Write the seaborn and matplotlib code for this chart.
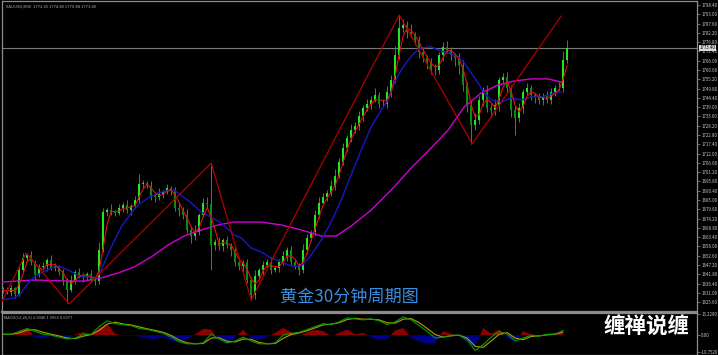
import numpy as np
import pandas as pd
import matplotlib
matplotlib.use('Agg')
import matplotlib.pyplot as plt
import matplotlib.transforms as mtransforms
import seaborn as sns

# XAUUSD M30 closes, one per bar
close = [
    1632.7, 1631.5, 1633.9, 1630.4, 1644.3, 1651.3, 1653.0, 1649.0, 1641.4, 1646.1,
    1646.6, 1650.1, 1645.5, 1646.6, 1643.2, 1638.5, 1632.7, 1638.5, 1643.2, 1640.8,
    1640.3, 1642.0, 1638.5, 1637.9, 1655.9, 1678.0, 1679.2, 1678.0, 1677.5, 1680.4,
    1682.1, 1679.2, 1681.5, 1685.0, 1694.3, 1694.9, 1693.2, 1687.3, 1686.8, 1688.5,
    1689.7, 1692.0, 1690.8, 1680.4, 1679.2, 1676.3, 1667.6, 1664.1, 1666.4, 1676.3,
    1683.3, 1682.7, 1658.9, 1660.6, 1658.3, 1661.8, 1658.9, 1655.9, 1649.0, 1646.6,
    1649.0, 1638.5, 1629.8, 1640.8, 1644.3, 1647.2, 1649.0, 1644.3, 1645.5, 1649.0,
    1652.5, 1655.9, 1649.0, 1646.6, 1644.3, 1655.9, 1662.9, 1666.4, 1676.3, 1683.3,
    1686.8, 1689.1, 1693.2, 1699.0, 1707.1, 1715.3, 1721.1, 1725.7, 1728.0, 1733.9,
    1738.5, 1740.8, 1743.2, 1746.0, 1740.8, 1740.8, 1747.8, 1754.8, 1769.3, 1785.0,
    1786.8, 1782.7, 1781.0, 1778.0, 1771.1, 1767.6, 1765.3, 1760.6, 1760.6, 1769.3,
    1774.0, 1772.2, 1769.3, 1767.6, 1763.5, 1751.9, 1740.3, 1728.6, 1731.5, 1743.2,
    1749.0, 1738.5, 1737.3, 1740.3, 1754.8, 1756.5, 1750.1, 1737.3, 1732.7, 1738.5,
    1747.8, 1750.1, 1746.1, 1744.9, 1743.2, 1745.5, 1743.2, 1747.8, 1750.1, 1750.1,
    1766.4, 1773.4,
]
first_open = 1633.5

# wick lengths above / below the candle body
upper_wick = [
    1.2, 2.0, 1.5, 0.8, 2.6, 3.1, 1.4, 2.2, 0.9, 1.7,
    2.4, 1.1, 3.0, 1.6, 0.7, 1.9, 1.3, 2.8, 1.0, 2.1,
    1.5, 0.9, 2.3, 1.8, 4.5, 2.6, 1.2, 3.4, 1.0, 2.0,
    1.6, 2.9, 1.3, 2.2, 5.8, 2.0, 1.1, 2.7, 1.8, 3.3,
    1.4, 2.5, 1.0, 1.9, 2.8, 1.5, 3.6, 2.2, 4.0, 1.3,
    2.6, 3.2, 23.8, 1.8, 2.9, 1.4, 2.3, 1.0, 1.9, 2.6,
    1.2, 2.0, 1.6, 3.5, 1.1, 2.4, 1.8, 2.7, 1.3, 2.0,
    3.0, 1.5, 2.2, 0.9, 1.6, 3.4, 2.5, 1.2, 2.8, 3.6,
    2.1, 1.7, 3.2, 4.0, 2.4, 2.9, 1.8, 3.5, 2.2, 2.7,
    1.6, 3.1, 2.3, 4.2, 1.9, 2.8, 3.4, 2.6, 5.0, 7.6,
    3.3, 2.1, 4.4, 1.8, 2.6, 3.0, 1.5, 2.4, 3.7, 1.9,
    2.8, 3.5, 2.0, 1.4, 2.6, 3.1, 1.7, 2.2, 3.9, 2.5,
    1.8, 2.9, 2.2, 3.6, 1.5, 2.4, 3.0, 1.9, 2.3, 2.7,
    1.6, 3.2, 2.0, 1.4, 2.6, 1.8, 2.9, 2.2, 1.7, 3.4,
    5.5, 4.6,
]
lower_wick = [
    1.8, 1.0, 2.5, 2.4, 1.2, 0.9, 2.1, 1.6, 2.8, 1.3,
    1.9, 2.6, 1.1, 2.0, 1.5, 2.9, 7.6, 1.4, 2.2, 1.0,
    2.7, 1.6, 1.3, 2.4, 1.8, 1.1, 2.5, 1.7, 2.0, 1.4,
    2.2, 1.5, 2.8, 1.2, 1.9, 2.6, 1.4, 2.1, 3.0, 1.6,
    2.4, 1.3, 2.9, 1.8, 3.2, 2.5, 1.6, 3.8, 2.2, 1.9,
    1.4, 2.6, 14.6, 3.1, 2.2, 2.8, 1.7, 3.5, 2.4, 2.0,
    3.3, 1.8, 2.9, 2.3, 1.6, 2.7, 1.9, 2.5, 1.4, 2.2,
    1.7, 2.8, 2.0, 1.5, 2.9, 1.9, 2.4, 1.6, 2.1, 1.8,
    1.3, 2.3, 1.7, 2.6, 1.4, 2.0, 1.8, 2.5, 1.5, 2.2,
    2.7, 1.6, 2.9, 1.3, 2.4, 1.9, 2.2, 3.0, 1.7, 2.1,
    2.6, 3.4, 1.8, 2.9, 3.7, 2.3, 4.1, 2.6, 3.0, 2.4,
    3.2, 2.0, 2.7, 4.6, 5.2, 3.6, 4.4, 11.0, 3.1, 2.5,
    3.4, 2.2, 4.0, 2.8, 3.5, 2.1, 3.0, 4.2, 9.9, 2.6,
    3.1, 2.0, 2.7, 3.3, 2.4, 2.9, 1.8, 2.6, 2.2, 1.9,
    2.4, 2.0,
]

# medium moving average (blue)
blue_bar = [-0.5, 2.75, 4.5, 6.25, 7.75, 9.5, 12.75, 14.5, 16.25, 19.5, 22, 23.25, 24.5,
            27, 29.5, 32, 33.75, 36.25, 38.75, 41.5, 42.75, 45, 47, 49.5, 52, 54.5, 57.75,
            59.5, 62, 64.5, 67, 69.5, 72, 74.5, 77, 79.5, 82, 84.5, 87, 89.5, 92, 94.5,
            96.25, 97.75, 99.5, 101.25, 102.75, 104.5, 107, 108.75, 111.25, 113.75, 115.25,
            117, 118.75, 120.25, 122, 124.5, 127, 129.5, 132, 134.5, 136.25, 137.75, 139.5]
blue_val = [1626.9, 1628.0, 1630.9, 1636.8, 1640.3, 1642.6, 1646.1, 1646.1, 1644.3, 1640.3,
            1640.3, 1639.7, 1644.3, 1657.7, 1669.3, 1677.5, 1682.1, 1686.2, 1689.1, 1690.8,
            1690.8, 1686.8, 1683.3, 1678.0, 1675.1, 1671.6, 1664.7, 1662.9, 1657.1, 1654.8,
            1651.3, 1649.0, 1646.6, 1646.6, 1653.0, 1661.8, 1672.2, 1685.0, 1699.6, 1714.1,
            1727.5, 1737.3, 1743.2, 1753.0, 1760.6, 1766.4, 1770.5, 1773.4, 1774.0, 1772.2,
            1770.5, 1768.2, 1764.7, 1758.9, 1753.0, 1747.2, 1743.2, 1742.0, 1744.3, 1743.2,
            1744.9, 1744.9, 1746.1, 1747.2, 1747.8]

# slow moving average (magenta)
magenta_bar = [-0.5, 7.75, 16.25, 20.25, 24.5, 28.75, 32.75, 37, 41.25, 45.25, 49.5, 53.75,
               57.75, 59.5, 64.5, 69.5, 74.5, 79.5, 83.25, 87, 92, 97, 102, 107, 111.25,
               115.25, 119.5, 123.75, 127.75, 132, 136.25, 139.5]
magenta_val = [1637.3, 1638.5, 1637.9, 1637.9, 1639.7, 1642.6, 1646.1, 1651.9, 1658.9, 1664.1,
               1667.6, 1670.5, 1672.2, 1672.2, 1672.2, 1670.5, 1667.6, 1664.1, 1664.1, 1669.9,
               1679.2, 1690.8, 1703.6, 1715.3, 1725.7, 1739.1, 1747.2, 1751.9, 1754.2, 1755.4,
               1755.4, 1753.6]

# zigzag turning points
zigzag_bar = [-0.5, 5.75, 16.5, 52, 62, 99, 117.25, 139.5]
zigzag_val = [1625.1, 1654.2, 1624.6, 1706.5, 1626.9, 1792.6, 1717.6, 1792.0]

# MACD panel, one sample every second bar
macd_bar = list(range(0, 141, 2))
macd_main = [0.6, 0.6, 2.4, 4.2, 2.4, 0.6, 0.0, -1.2, -2.4, -1.8,
             0.6, 0.6, 5.4, 9.0, 7.2, 6.6, 6.0, 4.2, 3.6, 2.4,
             1.2, -1.2, -4.2, -5.4, -5.4, -4.8, 0.6, -2.4, -4.8, -3.6,
             -1.2, -3.6, -5.4, -5.4, -4.8, 0.0, 1.2, 1.8, 3.6, 5.4,
             7.2, 6.6, 8.4, 10.8, 10.2, 9.6, 10.2, 9.0, 6.6, 8.4,
             11.4, 9.6, 6.0, 2.4, -1.8, -1.2, 0.0, 0.0, -3.0, -9.6,
             -6.0, -1.2, 2.4, 0.6, -3.6, -1.8, 0.0, -0.6, 0.6, 0.6,
             3.0]
macd_signal = [0.5, 0.6, 1.5, 3.2, 3.4, 1.8, 0.6, -0.5, -1.8, -2.2,
               -0.6, 0.4, 3.0, 7.0, 8.2, 7.0, 6.4, 5.2, 4.0, 3.0,
               1.8, -0.2, -3.0, -4.8, -5.4, -5.2, -1.8, -1.6, -3.8, -4.2,
               -2.4, -2.6, -4.6, -5.4, -5.2, -2.0, 0.4, 1.4, 2.8, 4.6,
               6.4, 7.0, 7.8, 9.8, 10.6, 10.0, 10.0, 9.6, 7.8, 7.6,
               10.0, 10.4, 7.8, 4.2, 0.4, -1.2, -0.4, 0.0, -1.8, -7.0,
               -7.6, -3.6, 0.6, 1.6, -1.8, -2.8, -0.8, -0.4, 0.2, 0.6,
               2.0]
macd_hist = [0.0, 0.5, 2.5, 4.0, -1.5, -2.0, -0.5, -1.5, -2.5, 0.5,
             2.0, 0.5, 4.5, 7.0, 1.0, -0.5, -0.3, -0.8, -2.0, -2.5,
             -0.8, -3.5, -4.5, -2.5, 0.5, 4.0, 3.5, -3.0, -4.5, -1.5,
             3.5, -2.0, -3.0, -1.0, 1.5, 4.5, 2.0, -0.5, 2.0, 3.5,
             2.5, -0.5, 1.5, 3.5, 0.5, 1.5, -1.5, -3.0, -2.5, 3.0,
             4.5, -1.5, -4.0, -5.5, -4.5, 2.5, 1.0, -1.0, -4.0, -7.0,
             4.5, 1.0, 3.5, -2.0, -4.0, 2.5, 0.5, -0.3, 0.5, 1.5,
             1.5]

price_ticks = [1798.40, 1793.00, 1787.60, 1782.20, 1776.80, 1771.40, 1766.00, 1760.60,
               1755.20, 1749.80, 1744.40, 1739.00, 1733.60, 1728.20, 1722.80, 1717.40,
               1712.00, 1706.60, 1701.20, 1695.80, 1690.40, 1685.00, 1679.60, 1674.20,
               1668.80, 1663.40, 1658.00, 1652.60, 1647.20, 1641.80, 1636.40, 1631.00,
               1625.60]
macd_ticks = [13.229, 0.0, -10.752]
macd_tick_labels = ['13.2290', '0.00', '-10.7520']
current_price = 1773.40
header_text = 'XAUUSD,M30  1772.65 1774.40 1770.88 1773.40'
macd_header = 'MACD(12,26,9) 2.6940 1.9963 0.6977'
title_text = '黄金30分钟周期图'
brand_text = '缠禅说缠'

# candles
df = pd.DataFrame({'close': close, 'up': upper_wick, 'dn': lower_wick})
df['bar'] = np.arange(len(df))
df['open'] = df['close'].shift(1).fillna(first_open)
df['high'] = df[['open', 'close']].max(axis=1) + df['up']
df['low'] = df[['open', 'close']].min(axis=1) - df['dn']
df['ma_fast'] = df['close'].rolling(3, min_periods=1).mean()
bull = df['close'] >= df['open']

sns.set_theme(style='dark')
plt.rcParams['font.family'] = ['Noto Sans CJK SC', 'DejaVu Sans']

fig = plt.figure(figsize=(7.18, 3.55), dpi=100, facecolor='black')
ax = fig.add_axes([2 / 718, 1 - 312 / 355, 695 / 718, 311 / 355])
ax2 = fig.add_axes([2 / 718, 0, 695 / 718, 42 / 355])

grey = '#8c8c8c'
for a in (ax, ax2):
    a.set_facecolor('black')
    a.grid(False)
    for s in a.spines.values():
        s.set_color(grey)
        s.set_linewidth(0.9)
    a.yaxis.tick_right()
    a.tick_params(axis='y', direction='out', length=2, width=0.5, color=grey,
                  labelsize=3.2, labelcolor='#c8c8c8', pad=1)
    a.set_xticks([])
    a.set_xlim(-0.3, 173.45)
ax.spines['bottom'].set_linewidth(1.6)

# candles
ax.vlines(df['bar'], df['low'], df['high'], color='#00b000', lw=0.7, zorder=2)
ax.bar(df['bar'][bull], (df['close'] - df['open'])[bull], bottom=df['open'][bull],
       width=0.6, color='#22e622', linewidth=0, zorder=3)
ax.bar(df['bar'][~bull], (df['close'] - df['open'])[~bull], bottom=df['open'][~bull],
       width=0.6, color='#0c8c0c', linewidth=0, zorder=3)

sns.lineplot(x=magenta_bar, y=magenta_val, ax=ax, color='#d000d0', lw=1.0,
             estimator=None, zorder=4)
sns.lineplot(x=blue_bar, y=blue_val, ax=ax, color='#1818c8', lw=1.0,
             estimator=None, zorder=4)
sns.lineplot(x=df['bar'], y=df['ma_fast'], ax=ax, color='#e01010', lw=0.8,
             estimator=None, zorder=5)
sns.lineplot(x=zigzag_bar, y=zigzag_val, ax=ax, color='#b00000', lw=0.9,
             estimator=None, zorder=5)

ax.axhline(current_price, color='#7a7a7a', lw=0.8, zorder=1)
ax.set_ylim(1619.9, 1800.7)
ax.set_yticks(price_ticks)
ax.set_yticklabels([f'{t:.2f}' for t in price_ticks])
trans = mtransforms.blended_transform_factory(ax.transAxes, ax.transData)
ax.text(1.004, current_price, f'{current_price:.2f}', transform=trans, fontsize=3.2,
        color='black', va='center', ha='left',
        bbox=dict(facecolor='#d8d8d8', edgecolor='none', pad=0.4))

# MACD
hist = np.array(macd_hist)
ax2.fill_between(macd_bar, 0, hist, where=hist >= 0, interpolate=True,
                 color='#8b0000', lw=0)
ax2.fill_between(macd_bar, 0, hist, where=hist <= 0, interpolate=True,
                 color='#00008b', lw=0)
sns.lineplot(x=macd_bar, y=macd_signal, ax=ax2, color='#b4a000', lw=0.8, estimator=None)
sns.lineplot(x=macd_bar, y=macd_main, ax=ax2, color='#00a000', lw=0.8, estimator=None)
ax2.set_ylim(-12.4, 13.9)
ax2.set_yticks(macd_ticks)
ax2.set_yticklabels(macd_tick_labels)
ax2.set_xlim(-0.3, 173.45)

for a in (ax, ax2):
    a.set_xlabel('')
    a.set_ylabel('')
    a.xaxis.label.set_visible(False)
    a.yaxis.label.set_visible(False)

fig.text(6 / 718, 1 - 6 / 355, header_text, fontsize=3, color='#b0b0b0',
         va='center', ha='left')
fig.text(4 / 718, 1 - 317 / 355, macd_header, fontsize=3, color='#b0b0b0',
         va='center', ha='left')
fig.text(349 / 718, 1 - 297 / 355, title_text, fontsize=12.3, color='#3a8fe0',
         va='center', ha='center')
fig.text(647 / 718, 1 - 327 / 355, brand_text, fontsize=15.5, color='white',
         fontweight='bold', va='center', ha='center')

fig.savefig('out.png', dpi=100, facecolor='black')
